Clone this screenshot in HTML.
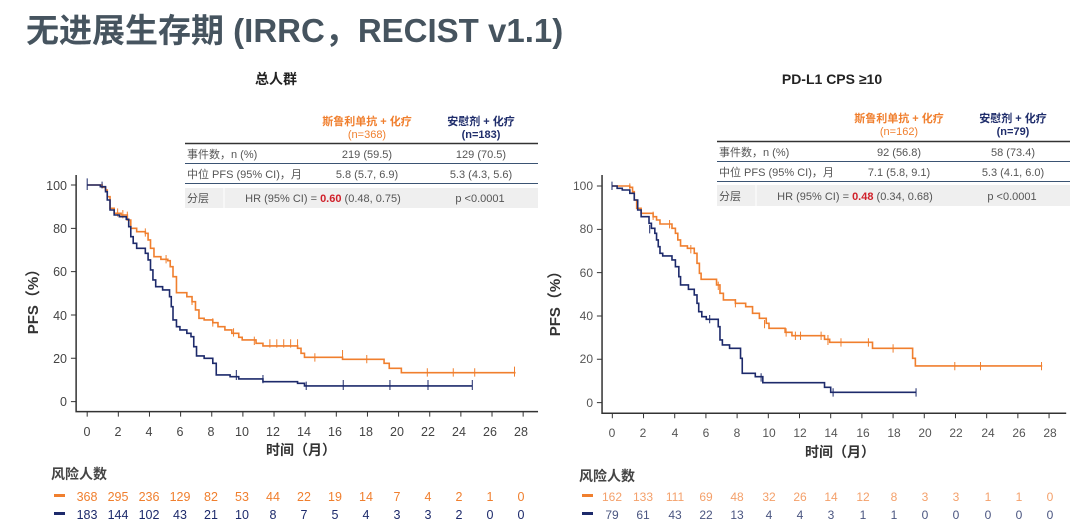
<!DOCTYPE html>
<html><head><meta charset="utf-8"><style>
html,body{margin:0;padding:0;background:#fff;width:1080px;height:526px;overflow:hidden}
svg{display:block;font-family:"Liberation Sans","Noto Sans CJK SC",sans-serif}
.nss{vector-effect:non-scaling-stroke}
</style></head><body>
<svg width="1080" height="526" viewBox="0 0 1080 526" xmlns="http://www.w3.org/2000/svg">
<text x="26" y="42" font-size="33" font-weight="bold" fill="#46545f">无进展生存期 (IRRC，RECIST v1.1)</text>
<text x="276" y="84" font-size="14" font-weight="bold" fill="#222" text-anchor="middle">总人群</text>
<text x="832" y="84" font-size="14" font-weight="bold" fill="#222" text-anchor="middle">PD-L1 CPS ≥10</text>

<!-- LEFT TABLE -->
<g font-size="11" fill="#555">
<text x="367" y="125" text-anchor="middle" fill="#f07f2e" font-weight="bold">斯鲁利单抗 + 化疗</text>
<text x="367" y="138" text-anchor="middle" fill="#f07f2e">(n=368)</text>
<text x="481" y="125" text-anchor="middle" fill="#1f2d6b" font-weight="bold">安慰剂 + 化疗</text>
<text x="481" y="138" text-anchor="middle" fill="#1f2d6b" font-weight="bold">(n=183)</text>
<rect x="185" y="188" width="353" height="20" fill="#efefef"/>
<line x1="224" y1="188" x2="224" y2="208" stroke="#fff" stroke-width="1"/>
<line x1="185" y1="143.5" x2="538" y2="143.5" stroke="#333" stroke-width="1.5"/>
<line x1="185" y1="163.5" x2="538" y2="163.5" stroke="#3b5473" stroke-width="1"/>
<line x1="185" y1="183.5" x2="538" y2="183.5" stroke="#3b5473" stroke-width="1"/>
<text x="187" y="158">事件数，n (%)</text>
<text x="367" y="158" text-anchor="middle">219 (59.5)</text>
<text x="481" y="158" text-anchor="middle">129 (70.5)</text>
<text x="187" y="178">中位 PFS (95% CI)，月</text>
<text x="367" y="178" text-anchor="middle">5.8 (5.7, 6.9)</text>
<text x="481" y="178" text-anchor="middle">5.3 (4.3, 5.6)</text>
<text x="187" y="202">分层</text>
<text x="323" y="202" text-anchor="middle">HR (95% CI) = <tspan fill="#d0202a" font-weight="bold">0.60</tspan> (0.48, 0.75)</text>
<text x="480" y="202" text-anchor="middle">p &lt;0.0001</text>
</g>

<!-- RIGHT TABLE -->
<g font-size="11" fill="#555">
<text x="899" y="122" text-anchor="middle" fill="#f07f2e" font-weight="bold">斯鲁利单抗 + 化疗</text>
<text x="899" y="135" text-anchor="middle" fill="#f07f2e">(n=162)</text>
<text x="1013" y="122" text-anchor="middle" fill="#1f2d6b" font-weight="bold">安慰剂 + 化疗</text>
<text x="1013" y="135" text-anchor="middle" fill="#1f2d6b" font-weight="bold">(n=79)</text>
<rect x="717" y="185" width="353" height="21" fill="#efefef"/>
<line x1="756" y1="185" x2="756" y2="206" stroke="#fff" stroke-width="1"/>
<line x1="717" y1="141.5" x2="1070" y2="141.5" stroke="#333" stroke-width="1.5"/>
<line x1="717" y1="161.5" x2="1070" y2="161.5" stroke="#3b5473" stroke-width="1"/>
<line x1="717" y1="181.5" x2="1070" y2="181.5" stroke="#3b5473" stroke-width="1"/>
<text x="719" y="156">事件数，n (%)</text>
<text x="899" y="156" text-anchor="middle">92 (56.8)</text>
<text x="1013" y="156" text-anchor="middle">58 (73.4)</text>
<text x="719" y="176">中位 PFS (95% CI)，月</text>
<text x="899" y="176" text-anchor="middle">7.1 (5.8, 9.1)</text>
<text x="1013" y="176" text-anchor="middle">5.3 (4.1, 6.0)</text>
<text x="719" y="200">分层</text>
<text x="855" y="200" text-anchor="middle">HR (95% CI) = <tspan fill="#d0202a" font-weight="bold">0.48</tspan> (0.34, 0.68)</text>
<text x="1012" y="200" text-anchor="middle">p &lt;0.0001</text>
</g>

<!-- LEFT CHART -->
<g transform="translate(0,100) scale(0.346,0.3333)" fill="none">
<path class="nss" d="M220,225 V935 H1555" stroke="#333" stroke-width="1.5"/>
<path class="nss" stroke="#333" stroke-width="1" d="M205,255H220M205,385H220M205,515H220M205,645H220M205,775H220M205,905H220
M252,935V950M342,935V950M432,935V950M522,935V950M612,935V950M702,935V950M792,935V950M882,935V950M972,935V950M1062,935V950M1152,935V950M1242,935V950M1332,935V950M1422,935V950M1512,935V950"/>
<path class="nss" stroke="#f07f2e" stroke-width="1.6" d="M252,255 H295 V262 H305 V270 H310 V290 H318 V325 H330 V340 H350 V345 H368 V360 H378 V385 H395 V395 H420 V400 H428 V420 H435 V445 H445 V470 H465 V478 H485 V482 H492 V500 H500 V530 H510 V578 H540 V590 H555 V605 H565 V630 H575 V655 H590 V660 H615 V668 H630 V680 H650 V690 H670 V700 H690 V712 H700 V720 H740 V730 H760 V738 H860 V745 H870 V760 H880 V772 H990 V778 H1110 V790 H1125 V805 H1160 V818 H1490"/>
<path class="nss" stroke="#f07f2e" stroke-width="1" d="M340,325v25M355,330v25M368,335v25M420,385v25M480,465v25M555,590v25M615,655v25M675,685v25M735,710v25M780,718v25M800,718v25M820,718v25M840,718v25M860,718v25M910,760v25M990,750v30M1060,765v25M1235,805v25M1310,805v25M1372,805v25M1487,800v30"/>
<path class="nss" stroke="#1d2a6b" stroke-width="1.6" d="M252,255 H290 V260 H305 V275 H310 V300 H318 V330 H330 V345 H345 V350 H365 V358 H372 V380 H378 V410 H385 V430 H395 V445 H420 V460 H428 V480 H435 V510 H442 V540 H450 V560 H470 V570 H490 V590 H495 V620 H500 V660 H510 V680 H520 V690 H540 V700 H552 V710 H560 V740 H568 V768 H590 V775 H615 V790 H625 V825 H665 V830 H690 V837 H760 V845 H860 V850 H880 V858 H1365"/>
<path class="nss" stroke="#1d2a6b" stroke-width="1" d="M252,235v35M295,245v20M683,810v30M760,825v25M885,845v25M992,840v30M1127,840v30M1237,840v30M1365,840v30"/>
</g>
<g font-size="12.5" fill="#444" text-anchor="end">
<text x="67" y="190">100</text><text x="67" y="233">80</text><text x="67" y="276">60</text><text x="67" y="320">40</text><text x="67" y="363">20</text><text x="67" y="406">0</text>
</g>
<g font-size="12.5" fill="#444" text-anchor="middle">
<text x="87" y="436">0</text><text x="118" y="436">2</text><text x="149" y="436">4</text><text x="180" y="436">6</text><text x="211" y="436">8</text><text x="242" y="436">10</text><text x="273" y="436">12</text><text x="304" y="436">14</text><text x="335" y="436">16</text><text x="366" y="436">18</text><text x="397" y="436">20</text><text x="428" y="436">22</text><text x="459" y="436">24</text><text x="490" y="436">26</text><text x="521" y="436">28</text>
</g>
<text x="301" y="455" font-size="14" font-weight="bold" fill="#333" text-anchor="middle">时间（月）</text>
<text transform="translate(38,298) rotate(-90)" font-size="15" font-weight="bold" fill="#333" text-anchor="middle">PFS（%）</text>
<text x="51" y="479" font-size="14" font-weight="bold" fill="#444">风险人数</text>
<rect x="54" y="494" width="11" height="3" fill="#f07f2e"/>
<rect x="54" y="512" width="11" height="3" fill="#1d2a6b"/>
<g font-size="12.5" text-anchor="middle" fill="#f07f2e">
<text x="87" y="501">368</text><text x="118" y="501">295</text><text x="149" y="501">236</text><text x="180" y="501">129</text><text x="211" y="501">82</text><text x="242" y="501">53</text><text x="273" y="501">44</text><text x="304" y="501">22</text><text x="335" y="501">19</text><text x="366" y="501">14</text><text x="397" y="501">7</text><text x="428" y="501">4</text><text x="459" y="501">2</text><text x="490" y="501">1</text><text x="521" y="501">0</text>
</g>
<g font-size="12.5" text-anchor="middle" fill="#1d2a6b">
<text x="87" y="519">183</text><text x="118" y="519">144</text><text x="149" y="519">102</text><text x="180" y="519">43</text><text x="211" y="519">21</text><text x="242" y="519">10</text><text x="273" y="519">8</text><text x="304" y="519">7</text><text x="335" y="519">5</text><text x="366" y="519">4</text><text x="397" y="519">3</text><text x="428" y="519">3</text><text x="459" y="519">2</text><text x="490" y="519">0</text><text x="521" y="519">0</text>
</g>

<!-- RIGHT CHART -->
<g transform="translate(540,100) scale(0.3428,0.3333)" fill="none">
<path class="nss" d="M181,225 V940 H1535" stroke="#333" stroke-width="1.5"/>
<path class="nss" stroke="#333" stroke-width="1" d="M166,258H181M166,388H181M166,518H181M166,648H181M166,778H181M166,908H181
M211,940V955M302,940V955M393,940V955M484,940V955M575,940V955M666,940V955M757,940V955M848,940V955M939,940V955M1030,940V955M1121,940V955M1212,940V955M1303,940V955M1394,940V955M1485,940V955"/>
<path class="nss" stroke="#f07f2e" stroke-width="1.6" d="M210,258 H262 V262 H270 V275 H275 V300 H282 V325 H295 V340 H330 V350 H340 V360 H350 V372 H385 V385 H395 V400 H402 V420 H410 V438 H430 V445 H450 V460 H458 V490 H465 V520 H470 V538 H515 V555 H525 V580 H535 V600 H570 V610 H600 V620 H620 V640 H640 V655 H660 V670 H668 V685 H715 V697 H735 V707 H830 V718 H845 V727 H970 V745 H1087 V775 H1095 V798 H1465"/>
<path class="nss" stroke="#f07f2e" stroke-width="1" d="M262,250v25M330,335v25M378,360v25M440,435v25M520,545v25M570,597v25M655,660v25M718,685v25M745,695v25M760,695v25M820,695v25M840,705v30M878,715v25M958,715v25M1030,733v25M1210,786v25M1285,786v25M1463,786v25"/>
<path class="nss" stroke="#1d2a6b" stroke-width="1.6" d="M210,258 H225 V265 H240 V270 H262 V280 H275 V300 H285 V330 H295 V350 H318 V370 H325 V385 H335 V400 H340 V420 H345 V440 H350 V460 H358 V468 H385 V480 H395 V500 H405 V530 H410 V555 H433 V568 H450 V585 H458 V610 H463 V635 H472 V650 H485 V658 H520 V680 H525 V720 H532 V735 H553 V745 H585 V775 H590 V820 H628 V830 H650 V848 H830 V862 H848 V877 H1097"/>
<path class="nss" stroke="#1d2a6b" stroke-width="1" d="M210,245v25M320,375v25M495,645v25M645,820v25M855,865v25M1097,865v25"/>
</g>
<g font-size="12" fill="#555" text-anchor="end">
<text x="593" y="190">100</text><text x="593" y="233">80</text><text x="593" y="277">60</text><text x="593" y="320">40</text><text x="593" y="363">20</text><text x="593" y="407">0</text>
</g>
<g font-size="12" fill="#555" text-anchor="middle">
<text x="612" y="437">0</text><text x="643" y="437">2</text><text x="675" y="437">4</text><text x="706" y="437">6</text><text x="737" y="437">8</text><text x="769" y="437">10</text><text x="800" y="437">12</text><text x="831" y="437">14</text><text x="863" y="437">16</text><text x="894" y="437">18</text><text x="925" y="437">20</text><text x="956" y="437">22</text><text x="988" y="437">24</text><text x="1019" y="437">26</text><text x="1050" y="437">28</text>
</g>
<text x="840" y="457" font-size="14" font-weight="bold" fill="#333" text-anchor="middle">时间（月）</text>
<text transform="translate(560,300) rotate(-90)" font-size="15" font-weight="bold" fill="#333" text-anchor="middle">PFS（%）</text>
<text x="579" y="481" font-size="14" font-weight="bold" fill="#444">风险人数</text>
<rect x="582" y="494" width="11" height="3" fill="#f07f2e"/>
<rect x="582" y="512" width="11" height="3" fill="#1d2a6b"/>
<g font-size="12" text-anchor="middle" fill="#f4a06a">
<text x="612" y="501">162</text><text x="643" y="501">133</text><text x="675" y="501">111</text><text x="706" y="501">69</text><text x="737" y="501">48</text><text x="769" y="501">32</text><text x="800" y="501">26</text><text x="831" y="501">14</text><text x="863" y="501">12</text><text x="894" y="501">8</text><text x="925" y="501">3</text><text x="956" y="501">3</text><text x="988" y="501">1</text><text x="1019" y="501">1</text><text x="1050" y="501">0</text>
</g>
<g font-size="12" text-anchor="middle" fill="#4a5580">
<text x="612" y="519">79</text><text x="643" y="519">61</text><text x="675" y="519">43</text><text x="706" y="519">22</text><text x="737" y="519">13</text><text x="769" y="519">4</text><text x="800" y="519">4</text><text x="831" y="519">3</text><text x="863" y="519">1</text><text x="894" y="519">1</text><text x="925" y="519">0</text><text x="956" y="519">0</text><text x="988" y="519">0</text><text x="1019" y="519">0</text><text x="1050" y="519">0</text>
</g>
</svg>
</body></html>
